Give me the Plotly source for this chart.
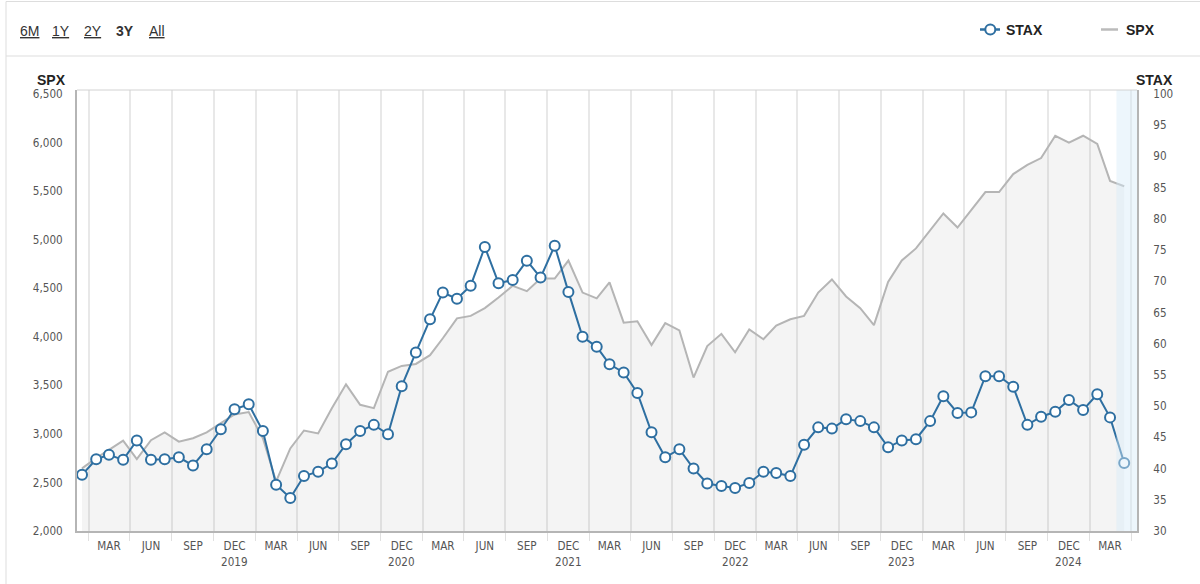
import plotly.graph_objects as go
import pandas as pd

# ---------------- data ----------------
months = pd.date_range("2019-01-01", "2025-04-01", freq="MS").strftime("%Y-%m-%d").tolist()

spx = [2645, 2750, 2835, 2930, 2740, 2935, 3015, 2920, 2955, 3015, 3110, 3200,
       3225, 2955, 2510, 2850, 3035, 3005, 3265, 3510, 3300, 3265, 3640, 3700,
       3720, 3810, 3985, 4190, 4215, 4295, 4405, 4525, 4470, 4600, 4600, 4785,
       4455, 4395, 4560, 4145, 4160, 3915, 4140, 4065, 3580, 3905, 4030, 3840,
       4075, 3975, 4115, 4180, 4215, 4455, 4590, 4415, 4295, 4120, 4565, 4785,
       4910, 5100, 5270, 5125, 5305, 5490, 5490, 5675, 5770, 5840, 6070, 6000,
       6070, 5985, 5605, 5550]

stax = [39.0, 41.5, 42.2, 41.4, 44.5, 41.4, 41.5, 41.8, 40.5, 43.1, 46.3, 49.5,
        50.3, 46.0, 37.4, 35.3, 38.8, 39.5, 40.8, 43.9, 46.0, 47.0, 45.5, 53.2,
        58.6, 63.9, 68.2, 67.2, 69.3, 75.5, 69.7, 70.2, 73.3, 70.6, 75.7, 68.3,
        61.1, 59.5, 56.7, 55.4, 52.1, 45.8, 41.8, 43.1, 40.0, 37.6, 37.2, 36.9,
        37.7, 39.5, 39.3, 38.8, 43.8, 46.6, 46.4, 47.9, 47.6, 46.6, 43.4, 44.5,
        44.7, 47.6, 51.6, 48.9, 49.0, 54.8, 54.8, 53.1, 47.0, 48.3, 49.1, 51.0,
        49.4, 51.9, 48.2, 40.9]

tick_dates = ["2019-03-01", "2019-06-01", "2019-09-01", "2019-12-01",
              "2020-03-01", "2020-06-01", "2020-09-01", "2020-12-01",
              "2021-03-01", "2021-06-01", "2021-09-01", "2021-12-01",
              "2022-03-01", "2022-06-01", "2022-09-01", "2022-12-01",
              "2023-03-01", "2023-06-01", "2023-09-01", "2023-12-01",
              "2024-03-01", "2024-06-01", "2024-09-01", "2024-12-01",
              "2025-03-01"]
tick_text = ["MAR", "JUN", "SEP", "DEC"] * 6 + ["MAR"]

year_dates = ["2019-12-01", "2020-12-01", "2021-12-01", "2022-12-01", "2023-12-01", "2024-12-01"]
year_text = ["2019", "2020", "2021", "2022", "2023", "2024"]

grid_dates = [f"{y}-{m:02d}-16" for y in range(2019, 2026) for m in (1, 4, 7, 10)
              if (y, m) <= (2025, 4)]

left_ticks = [2000, 2500, 3000, 3500, 4000, 4500, 5000, 5500, 6000, 6500]
right_ticks = [30, 35, 40, 45, 50, 55, 60, 65, 70, 75, 80, 85, 90, 95, 100]

range_buttons = ["6M", "1Y", "2Y", "3Y", "All"]
active_button = "3Y"

# ---------------- geometry helpers ----------------
W, H = 1200, 584
L, R, T, B = 77, 1137, 90, 531


def px(p):
    return (p - L) / (R - L)


def py(p):
    return (B - p) / (B - T)


BLUE = "#2e6fa1"
GREY = "#b5b5b5"
TICKFONT = dict(family="DejaVu Sans Condensed, DejaVu Sans, sans-serif", size=11.6, color="#555555")
BOLD = "Liberation Sans, Arial, sans-serif"

fig = go.Figure()

fig.add_trace(go.Scatter(
    x=months, y=spx, name="SPX", mode="lines",
    line=dict(color=GREY, width=2),
    fill="tozeroy", fillcolor="rgba(128,128,128,0.09)",
    yaxis="y", hoverinfo="skip"))

fig.add_trace(go.Scatter(
    x=months, y=stax, name="STAX", mode="lines+markers",
    line=dict(color=BLUE, width=2),
    marker=dict(symbol="circle", size=10, color="white", line=dict(color=BLUE, width=2)),
    yaxis="y2", cliponaxis=False))

shapes = []
# last-point hover band
shapes.append(dict(type="rect", xref="x", yref="paper", x0="2025-03-15", x1="2025-04-29",
                   y0=0, y1=1, fillcolor="rgba(215,234,248,0.45)", line=dict(width=0), layer="above"))
# plot top border
shapes.append(dict(type="line", xref="paper", yref="paper", x0=0, x1=1, y0=1, y1=1,
                   line=dict(color="#d2d2d2", width=1)))
# widget frame lines
for (x0, y0, x1, y1) in [(6, 1.5, 1200, 1.5), (6, 56, 1200, 56), (6, 1.5, 6, 584)]:
    shapes.append(dict(type="line", xref="paper", yref="paper",
                       x0=px(x0), x1=px(x1), y0=py(y0), y1=py(y1),
                       line=dict(color="#dddddd", width=1)))
# legend glyphs
shapes.append(dict(type="line", xref="paper", yref="paper", x0=px(980), x1=px(1000),
                   y0=py(29.5), y1=py(29.5), line=dict(color=BLUE, width=2.5)))
shapes.append(dict(type="circle", xref="paper", yref="paper", x0=px(985.3), x1=px(995.3),
                   y0=py(24.5), y1=py(34.5), fillcolor="white", line=dict(color=BLUE, width=2)))
shapes.append(dict(type="line", xref="paper", yref="paper", x0=px(1101), x1=px(1118),
                   y0=py(29.5), y1=py(29.5), line=dict(color="#bbbbbb", width=2.5)))

ann = []
# range selector
btn_x = [29.5, 61, 92.5, 125, 156.5]
for lbl, bx in zip(range_buttons, btn_x):
    txt = f"<b>{lbl}</b>" if lbl == active_button else f"<u>{lbl}</u>"
    ann.append(dict(text=txt, xref="paper", yref="paper", x=px(bx), y=py(31),
                    xanchor="center", yanchor="middle", showarrow=False,
                    font=dict(family=BOLD, size=14, color="#333333")))
# legend texts
ann.append(dict(text="<b>STAX</b>", xref="paper", yref="paper", x=px(1004), y=py(30),
                xanchor="left", yanchor="middle", showarrow=False,
                font=dict(family=BOLD, size=14, color="#222222")))
ann.append(dict(text="<b>SPX</b>", xref="paper", yref="paper", x=px(1124), y=py(30),
                xanchor="left", yanchor="middle", showarrow=False,
                font=dict(family=BOLD, size=14, color="#222222")))
# axis titles
ann.append(dict(text="<b>SPX</b>", xref="paper", yref="paper", x=px(51), y=py(79.5),
                xanchor="center", yanchor="middle", showarrow=False,
                font=dict(family=BOLD, size=14, color="#222222")))
ann.append(dict(text="<b>STAX</b>", xref="paper", yref="paper", x=px(1154), y=py(79.5),
                xanchor="center", yanchor="middle", showarrow=False,
                font=dict(family=BOLD, size=14, color="#222222")))
# year labels
for d, t in zip(year_dates, year_text):
    ann.append(dict(text=t, xref="x", yref="paper", x=d, y=py(561.5),
                    xanchor="center", yanchor="middle", showarrow=False, font=TICKFONT))

fig.update_layout(
    width=W, height=H,
    margin=dict(l=L, r=W - R, t=T, b=H - B, pad=0),
    paper_bgcolor="white", plot_bgcolor="white",
    showlegend=False,
    shapes=shapes, annotations=ann,
    xaxis=dict(type="date", range=["2018-12-21", "2025-04-29"],
               tickmode="array", tickvals=tick_dates, ticktext=tick_text,
               showgrid=False, ticks="", zeroline=False,
               showline=True, linecolor="#b5b5b5", linewidth=2,
               tickfont=TICKFONT, ticklabelstandoff=3,
               minor=dict(tickmode="array", tickvals=grid_dates, showgrid=True,
                          gridcolor="#e8e8e8", gridwidth=2,
                          ticks="outside", ticklen=8, tickcolor="#e0e0e0", tickwidth=1)),
    yaxis=dict(range=[2000, 6541], tickmode="array", tickvals=left_ticks, tickformat=",",
               showgrid=False, zeroline=False, showline=True, linecolor="#b5b5b5", linewidth=2,
               ticks="", tickfont=TICKFONT, ticklabelstandoff=10),
    yaxis2=dict(range=[30, 100.64], tickmode="array", tickvals=right_ticks,
                overlaying="y", side="right",
                showgrid=False, zeroline=False, showline=True, linecolor="#b5b5b5", linewidth=2,
                ticks="", tickfont=TICKFONT, ticklabelstandoff=12),
)

fig.write_html("out.html")
